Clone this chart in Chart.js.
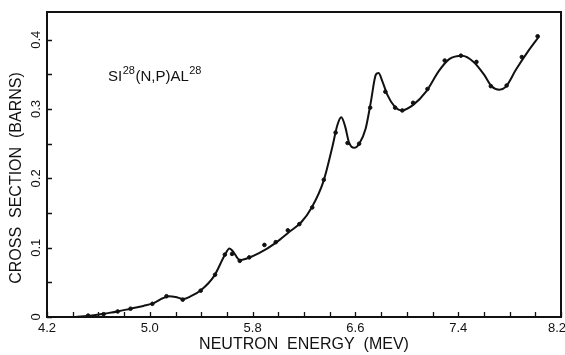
<!DOCTYPE html>
<html>
<head>
<meta charset="utf-8">
<script src="https://cdn.jsdelivr.net/npm/chart.js@4.4.1/dist/chart.umd.min.js"></script>
<style>
html,body{margin:0;padding:0;background:#fff;}
#wrap{width:565px;height:355px;position:relative;}
</style>
</head>
<body>
<div id="wrap"><canvas id="c" width="565" height="355"></canvas></div>
<script>
// measured data points (energy MeV, cross section barns)
const pointEnergy = [4.52,4.64,4.75,4.85,5.02,5.13,5.256,5.396,5.508,5.584,5.64,5.70,5.774,5.892,5.98,6.074,6.164,6.264,6.354,6.446,6.539,6.629,6.715,6.833,6.909,6.965,7.049,7.161,7.295,7.421,7.542,7.654,7.777,7.895,8.018];
const pointSigma  = [0.002,0.004,0.008,0.012,0.019,0.030,0.025,0.038,0.061,0.090,0.091,0.081,0.086,0.104,0.108,0.125,0.134,0.158,0.198,0.266,0.251,0.250,0.302,0.325,0.302,0.298,0.309,0.329,0.370,0.377,0.368,0.333,0.334,0.375,0.405];

// smooth fitted curve
const curveEnergy = [4.42,4.55,4.65,4.75,4.85,4.95,5.03,5.10,5.15,5.20,5.26,5.32,5.40,5.50,5.58,5.62,5.65,5.70,5.75,5.85,5.98,6.08,6.18,6.26,6.35,6.42,6.46,6.49,6.52,6.55,6.59,6.63,6.68,6.72,6.76,6.78,6.81,6.85,6.90,6.96,7.05,7.15,7.25,7.33,7.43,7.52,7.60,7.66,7.72,7.77,7.85,7.95,8.03];
const curveSigma  = [0.000,0.002,0.005,0.008,0.012,0.016,0.020,0.027,0.030,0.029,0.026,0.030,0.039,0.059,0.088,0.099,0.094,0.082,0.084,0.092,0.107,0.122,0.137,0.158,0.195,0.245,0.277,0.288,0.275,0.252,0.244,0.250,0.272,0.310,0.350,0.352,0.340,0.320,0.305,0.298,0.306,0.325,0.355,0.372,0.377,0.368,0.350,0.333,0.328,0.332,0.357,0.385,0.405];

const xTicks = [4.2,5.0,5.8,6.6,7.4,8.2];
const xTickLabels = ['4.2','5.0','5.8','6.6','7.4','8.2'];
const xMinorTicks = [4.4,4.6,4.8,5.2,5.4,5.6,6.0,6.2,6.4,6.8,7.0,7.2,7.6,7.8,8.0];
const yTicks = [0,0.1,0.2,0.3,0.4];
const yTickLabels = ['0','0.1','0.2','0.3','0.4'];
const yMinorTicks = [0.05,0.15,0.25,0.35];

const xTitle = 'NEUTRON  ENERGY  (MEV)';
const yTitle = 'CROSS  SECTION  (BARNS)';

const FONT = '"Liberation Sans", Arial, sans-serif';

const decor = {
  id: 'decor',
  afterDraw(chart) {
    const ctx = chart.ctx;
    const a = chart.chartArea;
    const xs = chart.scales.x, ys = chart.scales.y;
    ctx.save();
    ctx.strokeStyle = '#111';
    ctx.lineWidth = 2;
    ctx.strokeRect(a.left, a.top, a.right - a.left, a.bottom - a.top);
    ctx.lineWidth = 1.3;
    ctx.beginPath();
    [...xTicks, ...xMinorTicks].forEach(v => {
      const px = Math.round(xs.getPixelForValue(v)) + 0.5;
      ctx.moveTo(px, a.bottom); ctx.lineTo(px, a.bottom - 5);
    });
    [...yTicks, ...yMinorTicks].forEach(v => {
      const py = Math.round(ys.getPixelForValue(v)) + 0.5;
      ctx.moveTo(a.left, py); ctx.lineTo(a.left + 5, py);
    });
    ctx.stroke();

    ctx.fillStyle = '#111';
    ctx.font = '13px ' + FONT;
    ctx.textAlign = 'center';
    ctx.textBaseline = 'middle';
    xTicks.forEach((v, i) => {
      ctx.fillText(xTickLabels[i], Math.min(xs.getPixelForValue(v), 557), a.bottom + 11);
    });
    yTicks.forEach((v, i) => {
      ctx.save();
      ctx.translate(a.left - 11, ys.getPixelForValue(v));
      ctx.rotate(-Math.PI / 2);
      ctx.fillText(yTickLabels[i], 0, 0);
      ctx.restore();
    });

    ctx.font = '16px ' + FONT;
    ctx.fillText(xTitle, 304, a.bottom + 28);
    ctx.save();
    ctx.translate(17, 178);
    ctx.rotate(-Math.PI / 2);
    ctx.fillText(yTitle, 0, 0);
    ctx.restore();

    // reaction label
    ctx.textAlign = 'left';
    ctx.textBaseline = 'alphabetic';
    let x = 108, y = 81;
    const parts = [['SI', 15, 0], ['28', 11, -7], ['(N,P)AL', 15, 0], ['28', 11, -7]];
    parts.forEach(p => {
      ctx.font = p[1] + 'px ' + FONT;
      ctx.fillText(p[0], x, y + p[2]);
      x += ctx.measureText(p[0]).width + 0.5;
    });
    ctx.restore();
  }
};

new Chart(document.getElementById('c'), {
  type: 'scatter',
  data: {
    datasets: [
      {
        type: 'line',
        data: curveEnergy.map((e, i) => ({x: e, y: curveSigma[i]})),
        borderColor: '#111',
        borderWidth: 2,
        pointRadius: 0,
        fill: false,
        cubicInterpolationMode: 'monotone'
      },
      {
        data: pointEnergy.map((e, i) => ({x: e, y: pointSigma[i]})),
        backgroundColor: '#111',
        borderColor: '#111',
        pointRadius: 1.8,
        pointHoverRadius: 1.8
      }
    ]
  },
  options: {
    responsive: false,
    animation: false,
    layout: {padding: {left: 47, right: 4, top: 12, bottom: 38}},
    plugins: {legend: {display: false}, tooltip: {enabled: false}},
    scales: {
      x: {type: 'linear', min: 4.2, max: 8.2, display: false},
      y: {type: 'linear', min: 0, max: 0.44, display: false}
    }
  },
  plugins: [decor]
});
</script>
</body>
</html>
